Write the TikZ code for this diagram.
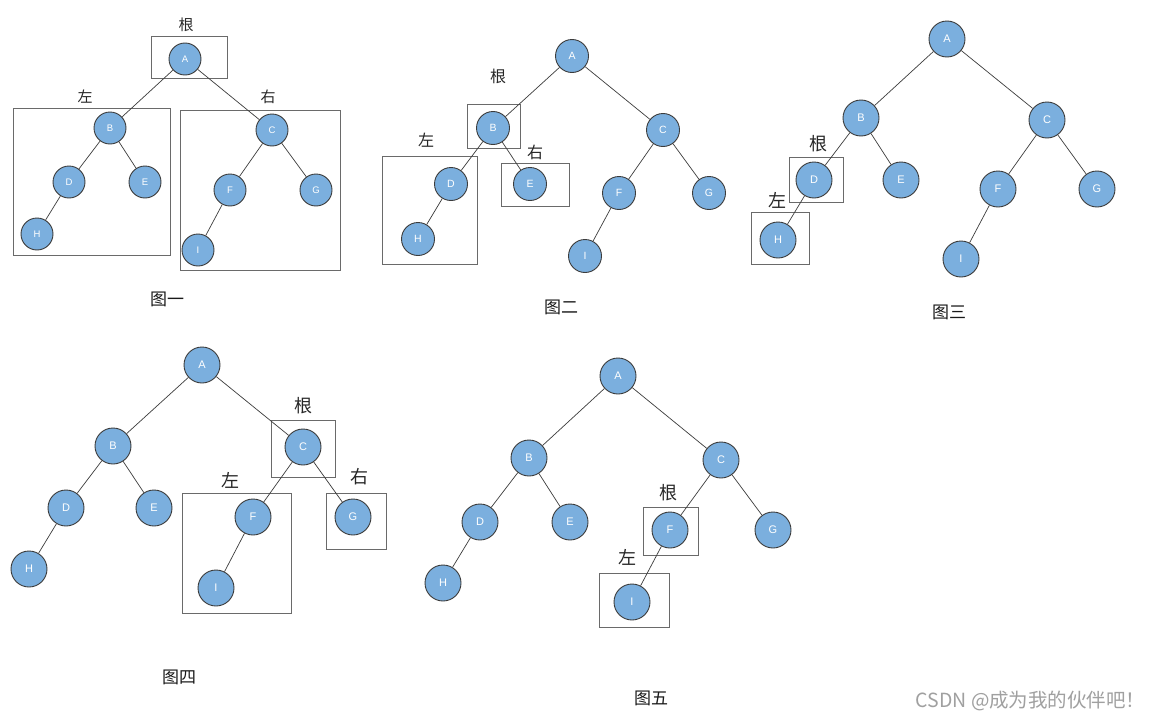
\documentclass[tikz,border=0pt]{standalone}
\usepackage{fontspec}
\newfontfamily\cjk{Noto Sans CJK SC}
\newfontfamily\lat{Liberation Sans}
\definecolor{nodeblue}{HTML}{7BAFDE}
\definecolor{nodeline}{HTML}{3C3C3C}
\definecolor{boxline}{HTML}{6A6A6A}
\definecolor{wmgray}{HTML}{A0A0A0}
\tikzset{
  tn/.style={circle, fill=nodeblue, draw=nodeline, line width=0.9pt, inner sep=0pt, text=white},
  tnS/.style={tn, minimum size=32pt, font=\lat\fontsize{9.5}{10}\selectfont},
  tnM/.style={tn, minimum size=33pt, font=\lat\fontsize{10.5}{11}\selectfont},
  tnL/.style={tn, minimum size=36pt, font=\lat\fontsize{11}{12}\selectfont},
  edge/.style={draw=nodeline, line width=0.7pt},
  selbox/.style={draw=boxline, line width=1pt},
  lblS/.style={font=\cjk\fontsize{15}{16}\selectfont, text=black!85},
  lblM/.style={font=\cjk\fontsize{16}{17}\selectfont, text=black!85},
  lblL/.style={font=\cjk\fontsize{18}{19}\selectfont, text=black!85},
  figcap/.style={font=\cjk\fontsize{17}{18}\selectfont, text=black!90},
}
\begin{document}
\begin{tikzpicture}[x=1pt,y=-1pt]
\useasboundingbox[fill=white] (0,0) rectangle (1160,720);

% ---------- Figure 1 ----------
\node[tnS] (A1) at (185,59) {A};
\node[tnS] (B1) at (110,128) {B};
\node[tnS] (C1) at (272,130) {C};
\node[tnS] (D1) at (69,182) {D};
\node[tnS] (E1) at (145,182) {E};
\node[tnS] (F1) at (230,190) {F};
\node[tnS] (G1) at (316,190) {G};
\node[tnS] (H1) at (37,234) {H};
\node[tnS] (I1) at (198,250) {I};
\draw[selbox] (151,36) rectangle (227,78);
\draw[selbox] (13,108) rectangle (170,255);
\draw[selbox] (180,110) rectangle (340,270);
\node[lblS] (r1) at (186,25) {根};
\node[lblS] (l1) at (85,97) {左};
\node[lblS] (ri1) at (268,97) {右};
\node[figcap] (c1) at (167,299) {图一};

% ---------- Figure 2 ----------
\node[tnM] (A2) at (572,56) {A};
\node[tnM] (B2) at (493,128) {B};
\node[tnM] (C2) at (663,130) {C};
\node[tnM] (D2) at (451,184) {D};
\node[tnM] (E2) at (530,184) {E};
\node[tnM] (F2) at (619,193) {F};
\node[tnM] (G2) at (709,193) {G};
\node[tnM] (H2) at (418,239) {H};
\node[tnM] (I2) at (585,256) {I};
\draw[selbox] (467,104) rectangle (520,148);
\draw[selbox] (382,156) rectangle (477,264);
\draw[selbox] (501,163) rectangle (569,206);
\node[lblM] (r2) at (498,76) {根};
\node[lblM] (l2) at (426,140) {左};
\node[lblM] (ri2) at (535,152) {右};
\node[figcap] (c2) at (561,307) {图二};

% ---------- Figure 3 ----------
\node[tnL] (A3) at (947,39) {A};
\node[tnL] (B3) at (861,118) {B};
\node[tnL] (C3) at (1047,120) {C};
\node[tnL] (D3) at (814,180) {D};
\node[tnL] (E3) at (901,180) {E};
\node[tnL] (F3) at (998,189) {F};
\node[tnL] (G3) at (1097,189) {G};
\node[tnL] (H3) at (778,240) {H};
\node[tnL] (I3) at (961,259) {I};
\draw[selbox] (789,157) rectangle (843,202);
\draw[selbox] (751,212) rectangle (809,264);
\node[lblL] (r3) at (818,144) {根};
\node[lblL] (l3) at (777,200) {左};
\node[figcap] (c3) at (949,312) {图三};

% ---------- Figure 4 ----------
\node[tnL] (A4) at (202,365) {A};
\node[tnL] (B4) at (113,446) {B};
\node[tnL] (C4) at (303,447) {C};
\node[tnL] (D4) at (66,508) {D};
\node[tnL] (E4) at (154,508) {E};
\node[tnL] (F4) at (253,517) {F};
\node[tnL] (G4) at (353,517) {G};
\node[tnL] (H4) at (29,569) {H};
\node[tnL] (I4) at (216,588) {I};
\draw[selbox] (271,420) rectangle (335,477);
\draw[selbox] (182,493) rectangle (291,613);
\draw[selbox] (326,493) rectangle (386,549);
\node[lblL] (r4) at (303,406) {根};
\node[lblL] (l4) at (230,480) {左};
\node[lblL] (ri4) at (359,477) {右};
\node[figcap] (c4) at (179,677) {图四};

% ---------- Figure 5 ----------
\node[tnL] (A5) at (618,376) {A};
\node[tnL] (B5) at (529,458) {B};
\node[tnL] (C5) at (721,460) {C};
\node[tnL] (D5) at (480,522) {D};
\node[tnL] (E5) at (570,522) {E};
\node[tnL] (F5) at (670,530) {F};
\node[tnL] (G5) at (773,530) {G};
\node[tnL] (H5) at (443,583) {H};
\node[tnL] (I5) at (632,602) {I};
\draw[selbox] (643,507) rectangle (698,555);
\draw[selbox] (599,573) rectangle (669,627);
\node[lblL] (r5) at (668,493) {根};
\node[lblL] (l5) at (627,557) {左};
\node[figcap] (c5) at (651,698) {图五};

% ---------- edges ----------
\foreach \k in {1,...,5}{
  \foreach \u/\v in {A/B,A/C,B/D,B/E,D/H,C/F,C/G,F/I}{
    \draw[edge] (\u\k) -- (\v\k);
  }
}

% watermark
\node[anchor=east, font=\cjk\fontsize{19.5}{21}\selectfont, text=wmgray] (wm) at (1149,701) {CSDN @成为我的伙伴吧！};
\end{tikzpicture}
\end{document}
